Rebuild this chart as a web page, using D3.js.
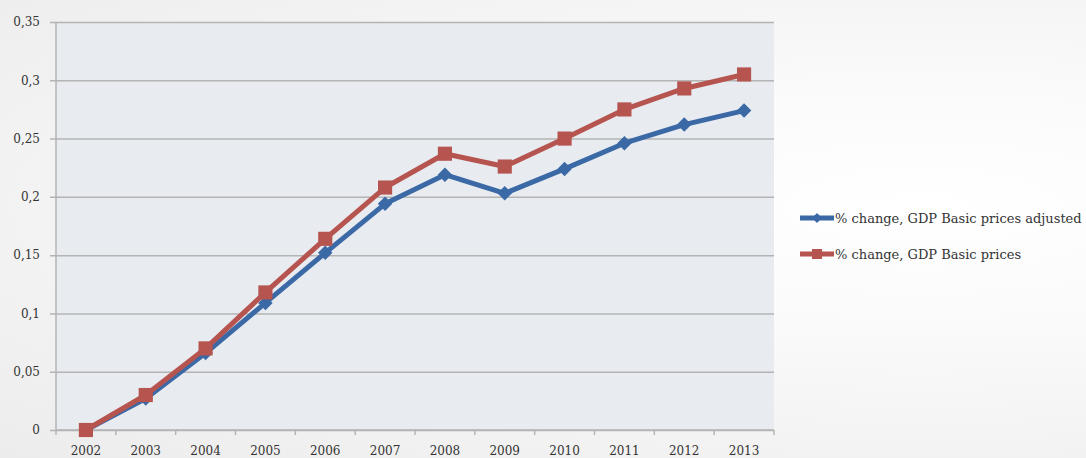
<!DOCTYPE html>
<html>
<head>
<meta charset="utf-8">
<script src="https://cdn.jsdelivr.net/npm/d3@7"></script>
<style>
  html, body { margin: 0; padding: 0; }
  body { width: 1086px; height: 458px; overflow: hidden;
    background: radial-gradient(ellipse at 85% 45%, #ffffff 0%, #fafafa 35%, #ececec 100%); }
  text { font-family: "DejaVu Serif", "Liberation Serif", serif; fill: #333; }
</style>
</head>
<body>
<div id="chart"></div>
<script>
const years = ['2002','2003','2004','2005','2006','2007','2008','2009','2010','2011','2012','2013'];
const adjusted = [0, 0.027, 0.066, 0.109, 0.152, 0.194, 0.219, 0.203, 0.224, 0.246, 0.262, 0.274];
const basic = [0, 0.030, 0.070, 0.118, 0.164, 0.208, 0.237, 0.226, 0.250, 0.275, 0.293, 0.305];
const yTicks = [0, 0.05, 0.1, 0.15, 0.2, 0.25, 0.3, 0.35];

const seriesList = [
  { name: '% change, GDP Basic prices adjusted', values: adjusted, colour: '#3b69a6', shape: 'diamond' },
  { name: '% change, GDP Basic prices', values: basic, colour: '#b65450', shape: 'square' }
];

let width = 1086, height = 458;
const margin = { top: 22, right: 312, bottom: 28, left: 56 };

let svg = d3.select('#chart').append('svg')
  .attr('width', width)
  .attr('height', height);

let x = d3.scaleBand()
  .domain(years)
  .range([margin.left, width - margin.right]);

let y = d3.scaleLinear()
  .domain([0, 0.35])
  .range([height - margin.bottom, margin.top]);

// plot area background
svg.append('rect')
  .attr('x', margin.left)
  .attr('y', margin.top)
  .attr('width', width - margin.right - margin.left)
  .attr('height', height - margin.bottom - margin.top)
  .style('fill', '#e8ebf0');

const fmt = d => d3.format('.2~f')(d).replace('.', ',');

// gridlines + y labels
let yAxis = d3.axisLeft(y)
  .tickValues(yTicks)
  .tickSize(-(width - margin.right - margin.left) - 6)
  .tickPadding(10)
  .tickFormat(fmt);

let yG = svg.append('g')
  .attr('transform', `translate(${margin.left - 6},0)`)
  .call(yAxis);
yG.select('.domain').remove();
yG.selectAll('.tick line').style('stroke', '#b4b4b4').style('stroke-width', 1.5);
yG.selectAll('.tick text').style('font-size', '12px').style('font-family', '"DejaVu Serif", serif');

// left axis line
svg.append('line')
  .attr('x1', margin.left).attr('x2', margin.left)
  .attr('y1', margin.top).attr('y2', height - margin.bottom)
  .style('stroke', '#b4b4b4').style('stroke-width', 1.5);

// x axis: ticks at band boundaries
let xG = svg.append('g')
  .attr('transform', `translate(0,${height - margin.bottom})`);
xG.append('line')
  .attr('x1', margin.left).attr('x2', width - margin.right)
  .style('stroke', '#b4b4b4').style('stroke-width', 1.5);
const bounds = years.map(d => x(d)).concat([x(years[years.length - 1]) + x.bandwidth()]);
xG.selectAll('line.tk')
  .data(bounds)
  .enter()
  .append('line')
  .attr('class', 'tk')
  .attr('x1', d => d).attr('x2', d => d)
  .attr('y1', 0).attr('y2', 5)
  .style('stroke', '#b4b4b4').style('stroke-width', 1.5);
xG.selectAll('text')
  .data(years)
  .enter()
  .append('text')
  .attr('x', d => x(d) + x.bandwidth() / 2)
  .attr('y', 25)
  .style('text-anchor', 'middle')
  .style('font-size', '12px')
  .text(d => d);

const cx = (d, i) => x(years[i]) + x.bandwidth() / 2;
const line = d3.line()
  .x((d, i) => cx(d, i))
  .y(d => y(d));

// diamond = square turned 45 degrees
const marker = (s, big) => s.shape === 'diamond'
  ? d3.symbol().type(d3.symbolSquare).size(big ? 105 : 50)()
  : d3.symbol().type(d3.symbolSquare).size(big ? 200 : 100)();
const rot = s => s.shape === 'diamond' ? ' rotate(45)' : '';

seriesList.forEach(s => {
  let g = svg.append('g');
  g.append('path')
    .datum(s.values)
    .attr('d', line)
    .style('fill', 'none')
    .style('stroke', s.colour)
    .style('stroke-width', 5)
    .style('stroke-linejoin', 'round');
  g.selectAll('path.pt')
    .data(s.values)
    .enter()
    .append('path')
    .attr('class', 'pt')
    .attr('transform', (d, i) => `translate(${cx(d, i)},${y(d)})` + rot(s))
    .attr('d', marker(s, true))
    .style('fill', s.colour);
});

// legend
let legend = svg.append('g')
  .attr('transform', 'translate(800,218)');
seriesList.forEach((s, i) => {
  let row = legend.append('g').attr('transform', `translate(0,${i * 36})`);
  row.append('line')
    .attr('x1', 0).attr('x2', 34)
    .style('stroke', s.colour)
    .style('stroke-width', 5);
  row.append('path')
    .attr('transform', 'translate(17,0)' + rot(s))
    .attr('d', marker(s, false))
    .style('fill', s.colour);
  row.append('text')
    .attr('x', 35)
    .attr('y', 4.5)
    .style('font-size', '13px')
    .text(s.name);
});
</script>
</body>
</html>
